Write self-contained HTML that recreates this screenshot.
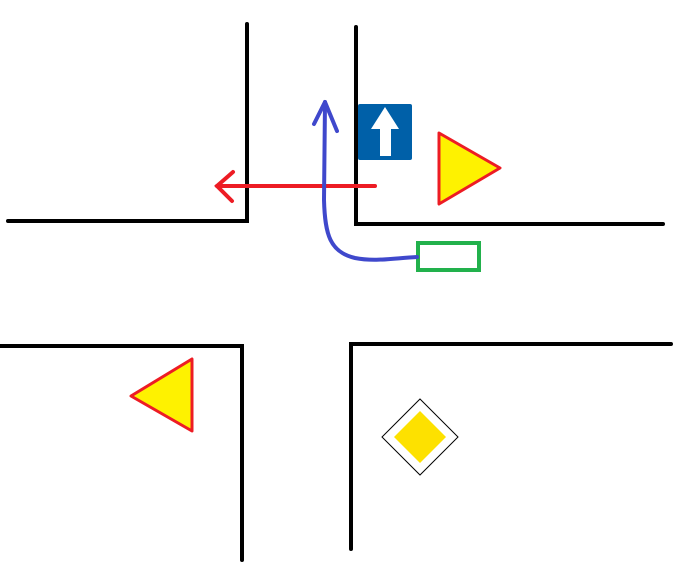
<!DOCTYPE html>
<html><head><meta charset="utf-8"><style>html,body{margin:0;padding:0;background:#fff;width:680px;height:578px;overflow:hidden}</style></head>
<body>
<svg width="680" height="578" viewBox="0 0 680 578" xmlns="http://www.w3.org/2000/svg">
<g stroke="#000" stroke-width="4" fill="none" stroke-linecap="round" stroke-linejoin="miter">
<polyline points="8,221 247,221 247,24"/>
<polyline points="663,224 356,224 356,27"/>
<polyline points="0,346 242,346 242,560"/>
<polyline points="351,549 351,344 671,344"/>
</g>
<rect x="358" y="104" width="54" height="56" rx="2" fill="#0060a8"/>
<polygon points="385,107 399,129 391,129 391,156 380,156 380,129 371,129" fill="#fff"/>
<polygon points="439,133 500,168 439,204" fill="#fef200" stroke="#ed1c24" stroke-width="3" stroke-linejoin="round"/>
<polygon points="131,396 192,359 192,431" fill="#fef200" stroke="#ed1c24" stroke-width="3" stroke-linejoin="round"/>
<polygon points="420,399 458,437 420,475 382,437" fill="#fff" stroke="#000" stroke-width="1"/>
<polygon points="420,411 446,437 420,463 394,437" fill="#fde100"/>
<g stroke="#ed1c24" stroke-width="4" fill="none" stroke-linecap="round">
<line x1="375" y1="186" x2="217" y2="186"/>
<polyline points="233,172 217,186 232,201"/>
</g>
<rect x="418" y="243" width="61" height="27" fill="none" stroke="#22b14c" stroke-width="4"/>
<g stroke="#3f48cc" stroke-width="4" fill="none" stroke-linecap="round" stroke-linejoin="round">
<path d="M417,257 C395,258 375,262 355,258 C330,252 325,235 324,200 L325,102"/>
<polyline points="314,124 325,102 337,131"/>
</g>
</svg>
</body></html>
